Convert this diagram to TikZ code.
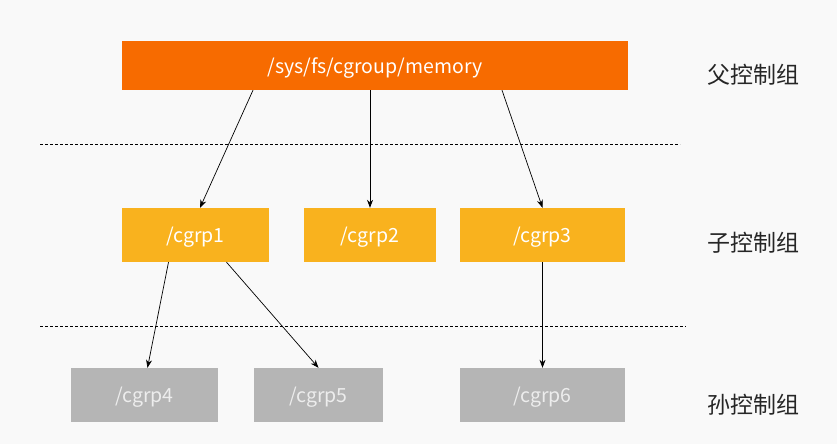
\documentclass[tikz,border=0pt]{standalone}
\usepackage{fontspec}
\setmainfont{Noto Sans CJK SC}
\usetikzlibrary{arrows.meta}
\definecolor{bgc}{HTML}{F9F9F9}
\definecolor{topc}{HTML}{F76B00}
\definecolor{midc}{HTML}{F9B21E}
\definecolor{lowc}{HTML}{B5B5B5}
\tikzset{
  box/.style={inner sep=0pt, minimum height=54pt, text=white, text depth=0pt, font=\fontsize{19.5}{22}\selectfont},
  topbox/.style={box, fill=topc, minimum width=506pt, minimum height=49pt},
  midbox/.style={box, fill=midc},
  lowbox/.style={box, fill=lowc, text=white!93!black},
  conn/.style={draw=black, line width=0.7pt, -{Stealth[length=8pt,width=6pt]}},
  sep/.style={draw=black, line width=0.6pt, dash pattern=on 3pt off 2pt},
  lvl/.style={font=\fontsize{23}{26}\selectfont, text=black!85},
}
\begin{document}
\begin{tikzpicture}[x=1pt,y=-1pt]
\fill[bgc] (0,0) rectangle (837,444);
\useasboundingbox (0,0) rectangle (837,444);
\node[topbox] (top) at (375,65.5) {/sys/fs/cgroup/memory};
\node[midbox, minimum width=147pt] (c1) at (195.5,235) {/cgrp1};
\node[midbox, minimum width=132pt] (c2) at (370,235) {/cgrp2};
\node[midbox, minimum width=165pt] (c3) at (542.5,235) {/cgrp3};
\node[lowbox, minimum width=147pt] (c4) at (144.5,395) {/cgrp4};
\node[lowbox, minimum width=129pt] (c5) at (318.5,395) {/cgrp5};
\node[lowbox, minimum width=165pt] (c6) at (542.5,395) {/cgrp6};
\node[lvl] (l1) at (753,75) {父控制组};
\node[lvl] (l2) at (753,243) {子控制组};
\node[lvl] (l3) at (753,405) {孙控制组};
\coordinate (s1a) at (40,144);
\coordinate (s1b) at (680,144);
\coordinate (s2a) at (40,326);
\coordinate (s2b) at (686,326);
\draw[sep] (s1a) -- (s1b);
\draw[sep] (s2a) -- (s2b);
\draw[conn] ([xshift=-122pt]top.south) -- ([xshift=4.5pt]c1.north);
\draw[conn] ([xshift=-5pt]top.south) -- (c2.north);
\draw[conn] ([xshift=127pt]top.south) -- (c3.north);
\draw[conn] ([xshift=-27pt]c1.south) -- ([xshift=3pt]c4.north);
\draw[conn] ([xshift=31pt]c1.south) -- (c5.north);
\draw[conn] (c3.south) -- (c6.north);
\end{tikzpicture}
\end{document}
